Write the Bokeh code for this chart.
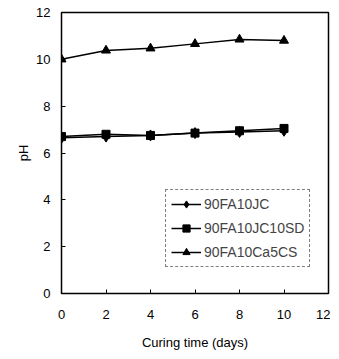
from bokeh.plotting import figure
from bokeh.embed import file_html
from bokeh.resources import INLINE
from bokeh.models import Legend, LegendItem, FixedTicker, Range1d

days = [0, 2, 4, 6, 8, 10]
ph_jc = [6.65, 6.7, 6.75, 6.85, 6.9, 6.95]
ph_jc_sd = [6.7, 6.8, 6.75, 6.85, 6.95, 7.05]
ph_ca_cs = [10.0, 10.38, 10.47, 10.66, 10.85, 10.8]
series_names = ["90FA10JC", "90FA10JC10SD", "90FA10Ca5CS"]
x_ticks = [0, 2, 4, 6, 8, 10, 12]
y_ticks = [0, 2, 4, 6, 8, 10, 12]

FONT = "Liberation Sans"

p = figure(frame_width=267, frame_height=281, output_backend="svg", toolbar_location=None,
           x_range=Range1d(0, 12), y_range=Range1d(0, 12),
           min_border_left=61, min_border_right=2, min_border_top=12, min_border_bottom=56)
p.outline_line_color = "black"
p.outline_line_width = 1.5
p.grid.visible = False
p.background_fill_color = "white"
p.border_fill_color = "white"

for ax in (p.xaxis[0], p.yaxis[0]):
    ax.axis_line_color = None
    ax.major_tick_in = 4
    ax.major_tick_out = 0
    ax.minor_tick_line_color = None
    ax.major_label_text_font = FONT
    ax.major_label_text_font_size = "13px"
    ax.major_label_text_color = "black"
    ax.axis_label_text_font = FONT
    ax.axis_label_text_font_style = "normal"
    ax.axis_label_text_font_size = "13px"
    ax.axis_label_text_color = "black"

p.xaxis.ticker = FixedTicker(ticks=x_ticks)
p.yaxis.ticker = FixedTicker(ticks=y_ticks)
p.xaxis.major_label_standoff = 16
p.yaxis.major_label_standoff = 11
p.xaxis.axis_label = "Curing time (days)"
p.yaxis.axis_label = "pH"
p.xaxis.axis_label_standoff = 13
p.yaxis.axis_label_standoff = 2

l1 = p.line(days, ph_jc, line_color="black", line_width=1.5)
m1 = p.scatter(days, ph_jc, marker="diamond", size=11, color="black")
l2 = p.line(days, ph_jc_sd, line_color="black", line_width=1.5)
m2 = p.scatter(days, ph_jc_sd, marker="square", size=8, color="black")
l3 = p.line(days, ph_ca_cs, line_color="black", line_width=1.5)
m3 = p.scatter(days, ph_ca_cs, marker="triangle", size=9, color="black")

legend = Legend(items=[
    LegendItem(label=series_names[0], renderers=[l1, m1]),
    LegendItem(label=series_names[1], renderers=[l2, m2]),
    LegendItem(label=series_names[2], renderers=[l3, m3]),
], location=(104, 26))
legend.label_text_font = FONT
legend.label_text_font_size = "14px"
legend.label_standoff = 3
legend.glyph_width = 30
legend.glyph_height = 18
legend.spacing = 6
legend.padding = 5
legend.margin = 0
legend.border_line_color = "black"
legend.border_line_width = 1
legend.border_line_dash = "2 1"
legend.background_fill_alpha = 1
p.add_layout(legend, "center")

open("out.html", "w").write(file_html(p, INLINE))
